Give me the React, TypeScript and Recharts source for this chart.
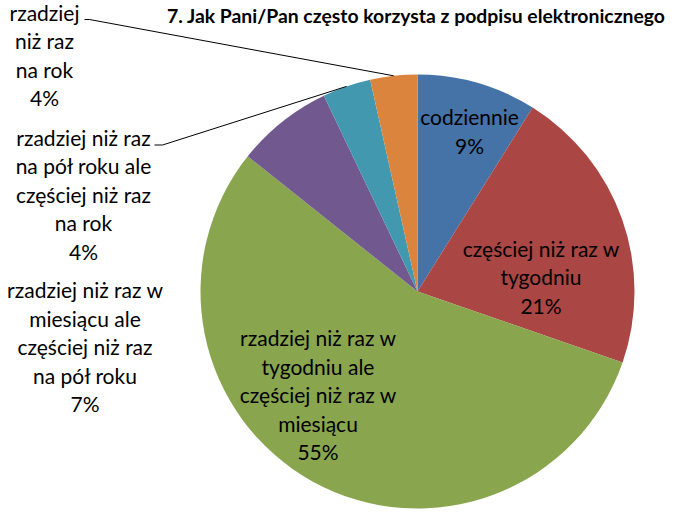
import React from "react";
import { PieChart, Pie, Cell } from "recharts";

const categories = [
  "codziennie",
  "częściej niż raz w tygodniu",
  "rzadziej niż raz w tygodniu ale częściej niż raz w miesiącu",
  "rzadziej niż raz w miesiącu ale częściej niż raz na pół roku",
  "rzadziej niż raz na pół roku ale częściej niż raz na rok",
  "rzadziej niż raz na rok",
];
const values = [8.9, 21.4, 55.4, 7.2, 3.6, 3.5];
const labelLines = [
  ["codziennie"],
  ["częściej niż raz w", "tygodniu"],
  ["rzadziej niż raz w", "tygodniu ale", "częściej niż raz w", "miesiącu"],
  ["rzadziej niż raz w", "miesiącu ale", "częściej niż raz", "na pół roku"],
  ["rzadziej niż raz", "na pół roku ale", "częściej niż raz", "na rok"],
  ["rzadziej", "niż raz", "na rok"],
];
const title = "7. Jak Pani/Pan często korzysta z podpisu elektronicznego";

const colors = ["#4572A7", "#AA4643", "#89A54E", "#71588F", "#4198AF", "#DB843D"];

// label placement relative to pie center (px): center x offset, first baseline offset
const labelLayout = [
  { dx: 52, dy: -166.5 },
  { dx: 123.5, dy: -35 },
  { dx: -99.5, dy: 54.5 },
  { dx: -332.5, dy: 6.5 },
  { dx: -334, dy: -146, leader: [-263, -146.5, -255, -146.5] },
  { dx: -373, dy: -271, leader: [-333, -272, -328, -272] },
];

const data = categories.map((name, i) => ({ name, value: values[i] }));

const FONT = "Lato, 'Open Sans', sans-serif";
const LINE_H = 28.5;
const RAD = Math.PI / 180;

const renderLabel = (props: any) => {
  const { cx, cy, midAngle, outerRadius, percent, index } = props;
  const lay = labelLayout[index];
  const lines = [...labelLines[index], `${Math.round(percent * 100)}%`];
  const x = cx + lay.dx;
  const y0 = cy + lay.dy;
  let leader = null;
  if (lay.leader) {
    const ex = cx + outerRadius * Math.cos(-midAngle * RAD);
    const ey = cy + outerRadius * Math.sin(-midAngle * RAD);
    const [x1, y1, x2, y2] = lay.leader;
    leader = (
      <polyline
        points={`${cx + x1},${cy + y1} ${cx + x2},${cy + y2} ${ex},${ey}`}
        fill="none"
        stroke="#000"
        strokeWidth={1}
      />
    );
  }
  return (
    <g key={`lbl-${index}`}>
      {leader}
      <text x={x} y={y0} textAnchor="middle" fontFamily={FONT} fontSize={21} fill="#000">
        {lines.map((t, i) => (
          <tspan key={i} x={x} y={y0 + i * LINE_H}>
            {t}
          </tspan>
        ))}
      </text>
    </g>
  );
};

export default function App() {
  return (
    <div style={{ position: "absolute", left: 0, top: 0, width: 691, height: 520, background: "#fff" }}>
      <PieChart width={691} height={520} margin={{ top: 0, right: 0, bottom: 0, left: 0 }}>
        <text
          x={416}
          y={23}
          textAnchor="middle"
          fontFamily={FONT}
          fontWeight="bold"
          fontSize={18}
          textLength={498}
          lengthAdjust="spacingAndGlyphs"
          fill="#000"
        >
          {title}
        </text>
        <Pie
          data={data}
          dataKey="value"
          nameKey="name"
          cx={417.5}
          cy={291.5}
          outerRadius={217}
          startAngle={90}
          endAngle={-270}
          stroke="none"
          isAnimationActive={false}
          labelLine={false}
          label={renderLabel}
        >
          {data.map((d, i) => (
            <Cell key={d.name} fill={colors[i]} />
          ))}
        </Pie>
      </PieChart>
    </div>
  );
}
